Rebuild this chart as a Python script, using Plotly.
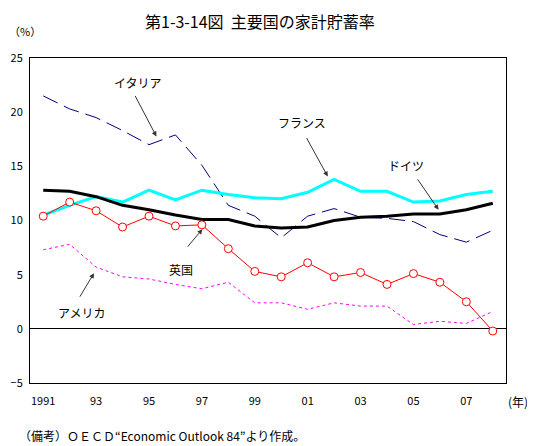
import plotly.graph_objects as go

years = list(range(1991, 2009))
italy = [21.5, 20.3, 19.5, 18.3, 17.0, 17.9, 15.1, 11.4, 10.4, 8.4, 10.4, 11.1, 10.3, 10.2, 9.9, 8.7, 8.0, 9.1]
france = [10.5, 11.4, 12.2, 11.7, 12.8, 11.9, 12.8, 12.4, 12.1, 12.0, 12.6, 13.8, 12.7, 12.7, 11.7, 11.8, 12.4, 12.7]
germany = [12.8, 12.7, 12.2, 11.4, 11.0, 10.5, 10.1, 10.1, 9.5, 9.3, 9.4, 10.0, 10.3, 10.4, 10.6, 10.6, 11.0, 11.6]
uk = [10.4, 11.7, 10.9, 9.4, 10.4, 9.5, 9.6, 7.4, 5.3, 4.8, 6.1, 4.8, 5.2, 4.1, 5.1, 4.3, 2.5, -0.2]
usa = [7.3, 7.8, 5.7, 4.8, 4.6, 4.1, 3.7, 4.3, 2.4, 2.4, 1.8, 2.4, 2.1, 2.1, 0.4, 0.7, 0.5, 1.6]

tick_vals = [1991, 1993, 1995, 1997, 1999, 2001, 2003, 2005, 2007]
tick_text = ['1991', '93', '95', '97', '99', '01', '03', '05', '07']

font = "Noto Sans CJK JP"

fig = go.Figure()
fig.add_trace(go.Scatter(x=years, y=usa, mode='lines', name='アメリカ',
    line=dict(color='#FF00FF', width=1, dash='3px,3px')))
fig.add_trace(go.Scatter(x=years, y=italy, mode='lines', name='イタリア',
    line=dict(color='#000080', width=1, dash='16px,7px')))
fig.add_trace(go.Scatter(x=years, y=france, mode='lines', name='フランス',
    line=dict(color='#00FFFF', width=3)))
fig.add_trace(go.Scatter(x=years, y=germany, mode='lines', name='ドイツ',
    line=dict(color='black', width=3)))
fig.add_trace(go.Scatter(x=years, y=uk, mode='lines+markers', name='英国',
    line=dict(color='#FF0000', width=1),
    marker=dict(symbol='circle', size=8, color='white',
                line=dict(color='#FF0000', width=1))))

# series labels with arrows
labels = [
    ('イタリア', 1994.58, 22.7, 1995.28, 17.76, -22, -42),
    ('フランス', 2000.8, 19.05, 2001.76, 14.06, -22, -40),
    ('ドイツ', 2004.72, 15.05, 2005.95, 10.99, -22, -32),
    ('英国', 1996.2, 5.51, 1997.02, 9.2, -16, 19),
    ('アメリカ', 1992.43, 1.5, 1992.92, 5.14, -15, 25),
]
for txt, tx, ty, hx, hy, ax, ay in labels:
    fig.add_annotation(x=tx, y=ty, text=txt, showarrow=False,
        font=dict(size=12, color='black', family=font))
    fig.add_annotation(x=hx, y=hy, text='', showarrow=True,
        ax=ax, ay=ay, arrowhead=2, arrowsize=1, arrowwidth=1,
        arrowcolor='#333333')

fig.add_annotation(xref='paper', yref='paper', x=-0.01, y=1.083,
    xanchor='center', yanchor='middle',
    text='（%）', showarrow=False, font=dict(size=11, family=font))
fig.add_annotation(xref='paper', yref='paper', x=1.026, y=-0.058,
    xanchor='center', yanchor='middle',
    text='(年)', showarrow=False, font=dict(size=12, family=font))
fig.add_annotation(xref='paper', yref='paper', x=-0.027, y=-0.163,
    xanchor='left', yanchor='middle',
    text='（備考）ＯＥＣＤ“Economic Outlook 84”より作成。',
    showarrow=False, font=dict(size=12, family=font))

# page body has ~8px margin, so the figure is sized to fit the window
fig.update_layout(
    title=dict(text='第1-3-14図  主要国の家計貯蓄率', x=0.478, y=0.967,
               xanchor='center', yanchor='middle',
               font=dict(size=16, family=font, color='black')),
    width=527, height=438,
    margin=dict(l=22, r=29, t=50, b=63),
    plot_bgcolor='white', paper_bgcolor='white',
    showlegend=False,
    font=dict(family=font, color='black'),
)
fig.update_xaxes(range=[1990.5, 2008.5], tickvals=tick_vals, ticktext=tick_text,
    showgrid=False, zeroline=False, showline=True, linecolor='black',
    linewidth=1, mirror=True, ticks='', ticklabelstandoff=8, automargin=False,
    tickfont=dict(size=11, family=font))
fig.update_yaxes(range=[-5, 25], dtick=5, showgrid=False, zeroline=True,
    zerolinecolor='black', zerolinewidth=1, showline=True, linecolor='black',
    linewidth=1, mirror=True, ticks='', ticklabelstandoff=4, automargin=False,
    tickfont=dict(size=11, family=font))

fig.write_html("out.html")
